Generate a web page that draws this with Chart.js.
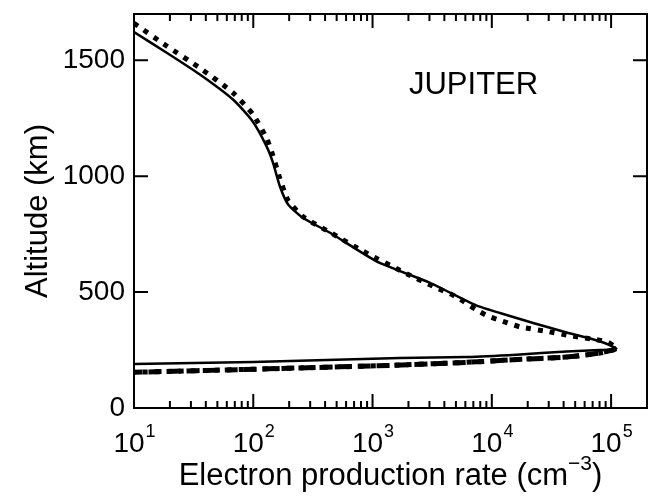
<!DOCTYPE html>
<html>
<head>
<meta charset="utf-8">
<script src="https://cdn.jsdelivr.net/npm/chart.js@4"></script>
<style>
  body { margin: 0; background: #fff; }
</style>
</head>
<body>
<canvas id="chart" width="664" height="498"></canvas>
<script>
// Datos
const solidRate = [10, 18.8, 35.7, 67.6, 99, 129, 146, 167, 196, 262, 440, 1080, 3030, 6150, 7460, 11700, 22200, 42400, 80500, 111000, 80500, 42400, 16100, 6150, 1700, 100, 10];
const solidAlt = [1622, 1533, 1439, 1331, 1236, 1130, 1060, 957, 878, 820, 756, 633, 540, 462, 442, 410, 367, 326, 288, 256, 250, 244, 230, 220, 216, 199, 190];

const dotRate = [10, 18.8, 35.7, 67.6, 99, 129, 146, 167, 196, 262, 440, 836, 1990, 3230, 5070, 7460, 9330, 11300, 17200, 28800, 48200, 75500, 94600, 111000, 80500, 42400, 16100, 6150, 1410, 112, 10];
const dotAlt = [1660, 1562, 1467, 1360, 1268, 1165, 1090, 990, 895, 825, 758, 676, 576, 525, 479, 423, 396, 381, 350, 331, 309, 295, 283, 256, 237, 220, 209, 197, 184, 168, 154];

const dashRate = [111000, 80500, 42400, 16100, 6150, 1410, 112, 10];
const dashAlt = [256, 237, 220, 209, 197, 184, 168, 154];

const rateTicks = [10, 100, 1000, 10000, 100000];
const rateExps = ['1', '2', '3', '4', '5'];
const altTicks = [0, 500, 1000, 1500];

const FONT = "'Liberation Sans', Arial, Helvetica, sans-serif";

const toPoints = (xs, ys) => xs.map((v, i) => ({ x: v, y: ys[i] }));

// Marco, marcas hacia dentro y textos con exponentes
const frame = {
    id: 'frame',
    afterDatasetsDraw(chart) {
        const { ctx, chartArea: a, scales: { x, y } } = chart;
        ctx.save();
        ctx.strokeStyle = '#000';
        ctx.lineWidth = 2;
        ctx.strokeRect(a.left, a.top, a.right - a.left, a.bottom - a.top);

        ctx.beginPath();
        for (let p = 1; p <= 5; p++) {
            for (let k = 1; k <= 9; k++) {
                const v = k * Math.pow(10, p);
                if (v >= x.max) break;
                const px = x.getPixelForValue(v);
                const len = k === 1 ? 14 : 7;
                ctx.moveTo(px, a.bottom); ctx.lineTo(px, a.bottom - len);
                ctx.moveTo(px, a.top); ctx.lineTo(px, a.top + len);
            }
        }
        altTicks.forEach(v => {
            if (v === 0) return;
            const py = y.getPixelForValue(v);
            ctx.moveTo(a.left, py); ctx.lineTo(a.left + 14, py);
            ctx.moveTo(a.right, py); ctx.lineTo(a.right - 14, py);
        });
        ctx.stroke();

        ctx.fillStyle = '#000';
        ctx.textBaseline = 'alphabetic';
        ctx.textAlign = 'left';

        // etiquetas 10^n
        rateTicks.forEach((v, i) => {
            const px = x.getPixelForValue(v);
            ctx.font = '28px ' + FONT;
            const wb = ctx.measureText('10').width;
            ctx.font = '18px ' + FONT;
            const we = ctx.measureText(rateExps[i]).width;
            const x0 = px - (wb + we) / 2;
            ctx.font = '28px ' + FONT;
            ctx.fillText('10', x0, 452);
            ctx.font = '18px ' + FONT;
            ctx.fillText(rateExps[i], x0 + wb + 1, 437);
        });

        // titulo del eje x
        const t1 = 'Electron production rate (cm', t2 = '\u22123', t3 = ')';
        ctx.font = '31px ' + FONT;
        const w1 = ctx.measureText(t1).width, w3 = ctx.measureText(t3).width;
        ctx.font = '21px ' + FONT;
        const w2 = ctx.measureText(t2).width;
        const tx = (a.left + a.right) / 2 - (w1 + w2 + w3) / 2;
        ctx.font = '31px ' + FONT;
        ctx.fillText(t1, tx, 485);
        ctx.font = '21px ' + FONT;
        ctx.fillText(t2, tx + w1, 470);
        ctx.font = '31px ' + FONT;
        ctx.fillText(t3, tx + w1 + w2, 485);

        // rotulo
        ctx.font = '31px ' + FONT;
        ctx.fillText('JUPITER', x.getPixelForValue(2020), y.getPixelForValue(1353));
        ctx.restore();
    }
};

const ctx = document.getElementById('chart').getContext('2d');
const chart = new Chart(ctx, {
    type: 'line',
    data: {
        datasets: [{
            label: 'solid',
            data: toPoints(solidRate, solidAlt),
            borderColor: '#000',
            borderWidth: 2.5,
            pointRadius: 0,
            tension: 0.2,
            fill: false
        }, {
            label: 'dotted',
            data: toPoints(dotRate, dotAlt),
            borderColor: '#000',
            borderWidth: 5,
            borderDash: [5, 7],
            pointRadius: 0,
            tension: 0.2,
            fill: false
        }, {
            label: 'dashed',
            data: toPoints(dashRate, dashAlt),
            borderColor: '#000',
            borderWidth: 5,
            borderDash: [13, 6],
            pointRadius: 0,
            tension: 0.2,
            fill: false
        }]
    },
    options: {
        responsive: false,
        animation: false,
        layout: { padding: { left: 0, right: 17, top: 14, bottom: 0 } },
        plugins: { legend: { display: false }, tooltip: { enabled: false } },
        scales: {
            x: {
                type: 'logarithmic',
                min: 10,
                max: 200000,
                grid: { display: false },
                border: { display: false },
                ticks: { display: false },
                afterFit: s => { s.height = 90; s.paddingLeft = 0; s.paddingRight = 0; }
            },
            y: {
                type: 'linear',
                min: 0,
                max: 1700,
                grid: { display: false, drawTicks: false },
                border: { display: false },
                afterBuildTicks: s => { s.ticks = altTicks.map(v => ({ value: v })); },
                ticks: {
                    color: '#000',
                    padding: 9,
                    font: { family: FONT, size: 28 },
                    callback: v => String(v)
                },
                title: {
                    display: true,
                    text: 'Altitude (km)',
                    color: '#000',
                    font: { family: FONT, size: 31 },
                    padding: { top: 20 }
                },
                afterFit: s => { s.width = 134; s.paddingTop = 0; s.paddingBottom = 0; }
            }
        }
    },
    plugins: [frame]
});
</script>
</body>
</html>
